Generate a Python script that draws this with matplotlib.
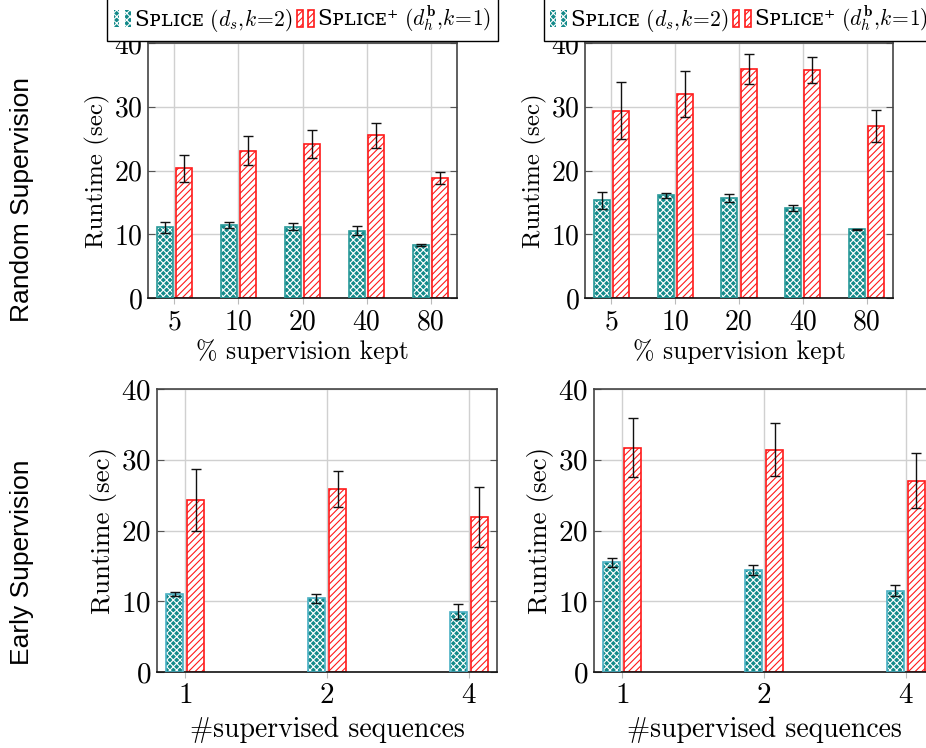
import numpy as np
import matplotlib
matplotlib.use('Agg')
import matplotlib.pyplot as plt
from matplotlib.legend_handler import HandlerTuple

# ---- data ----
pct_labels = ['5', '10', '20', '40', '80']
seq_labels = ['1', '2', '4']

# random supervision (top row)
rand_l_splice = [11.1, 11.45, 11.2, 10.55, 8.3]
rand_l_splice_err = [0.85, 0.5, 0.6, 0.7, 0.2]
rand_l_plus = [20.35, 23.1, 24.2, 25.5, 18.8]
rand_l_plus_err = [2.1, 2.3, 2.2, 1.9, 0.9]

rand_r_splice = [15.3, 16.1, 15.65, 14.1, 10.75]
rand_r_splice_err = [1.35, 0.35, 0.6, 0.45, 0.15]
rand_r_plus = [29.4, 32.0, 35.9, 35.8, 26.95]
rand_r_plus_err = [4.5, 3.6, 2.35, 2.05, 2.5]

# early supervision (bottom row)
early_l_splice = [11.05, 10.4, 8.55]
early_l_splice_err = [0.3, 0.6, 1.0]
early_l_plus = [24.3, 25.9, 21.85]
early_l_plus_err = [4.35, 2.55, 4.25]

early_r_splice = [15.5, 14.4, 11.5]
early_r_splice_err = [0.6, 0.7, 0.8]
early_r_plus = [31.7, 31.4, 27.05]
early_r_plus_err = [4.2, 3.75, 3.85]

TEAL = '#138a8a'
RED = '#ff1a1a'

plt.rcParams['font.family'] = ['cmr10']
plt.rcParams['mathtext.fontset'] = 'cm'
plt.rcParams['axes.formatter.use_mathtext'] = True
plt.rcParams['hatch.linewidth'] = 0.8

fig = plt.figure(figsize=(9.26, 7.48), dpi=100)


def panel(rect, labels, s_vals, s_err, p_vals, p_err, width, shift,
          xlim, xlabel, fs, tfs, edge, xpad):
  ax = fig.add_axes(rect)
  x = np.arange(len(labels))
  ax.set_axisbelow(True)
  ax.grid(True, color='#d0d0d0', linewidth=1.0)
  b1 = ax.bar(x - shift, s_vals, width, color=TEAL, edgecolor='white',
              hatch='xxxxx', linewidth=0, zorder=2)
  ax.bar(x - shift, s_vals, width, fill=False, edgecolor=edge,
         linewidth=1.2, zorder=3)
  b2 = ax.bar(x + shift, p_vals, width, color='white', edgecolor=RED,
              hatch='/////', linewidth=1.2, zorder=2)
  ax.errorbar(x - shift, s_vals, yerr=s_err, fmt='none', ecolor='#111111',
              elinewidth=1.0, capsize=3.5, capthick=1.0, zorder=4)
  ax.errorbar(x + shift, p_vals, yerr=p_err, fmt='none', ecolor='#111111',
              elinewidth=1.0, capsize=3.5, capthick=1.0, zorder=4)
  ax.set_xlim(*xlim)
  ax.set_ylim(0, 40)
  ax.set_yticks([0, 10, 20, 30, 40])
  ax.set_xticks(x)
  ax.set_xticklabels(labels)
  ax.tick_params(axis='y', direction='in', left=True, right=True,
                 length=5, color='#555555', labelsize=tfs, pad=4)
  ax.tick_params(axis='x', direction='out', length=4, color='#bbbbbb',
                 labelsize=tfs, pad=4)
  ax.set_ylabel('Runtime (sec)', fontsize=fs, labelpad=3)
  ax.set_xlabel(xlabel, fontsize=fs + 0.5, labelpad=xpad)
  for s in ax.spines.values():
    s.set_color('#444444')
    s.set_linewidth(1.2)
  ax.spines['bottom'].set_color('#111111')
  return ax, b1, b2


top_h = (298 - 43) / 748
top_b = (748 - 298) / 748
bot_h = (672 - 389) / 748
bot_b = (748 - 672) / 748

ax1, h1, h2 = panel([148 / 926, top_b, 309 / 926, top_h], pct_labels,
                    rand_l_splice, rand_l_splice_err, rand_l_plus, rand_l_plus_err,
                    0.25, 0.15, (-0.41, 4.41), '% supervision kept', 18, 20,
                    '#2a9a9a', 3)
ax2, _, _ = panel([585 / 926, top_b, 308 / 926, top_h], pct_labels,
                  rand_r_splice, rand_r_splice_err, rand_r_plus, rand_r_plus_err,
                  0.25, 0.15, (-0.41, 4.41), '% supervision kept', 18, 20,
                  '#2a9a9a', 3)
ax3, _, _ = panel([157 / 926, bot_b, 340 / 926, bot_h], seq_labels,
                  early_l_splice, early_l_splice_err, early_l_plus, early_l_plus_err,
                  0.12, 0.075, (-0.2, 2.2), '#supervised sequences', 19.5, 21,
                  '#4ab0c4', 5)
ax4, _, _ = panel([594 / 926, bot_b, 340 / 926, bot_h], seq_labels,
                  early_r_splice, early_r_splice_err, early_r_plus, early_r_plus_err,
                  0.12, 0.075, (-0.2, 2.2), '#supervised sequences', 19.5, 21,
                  '#4ab0c4', 5)

lab1 = 'S\u1d18\u029f\u026a\u1d04\u1d07 $(d_s,\\!k\\!=\\!2)$'
lab2 = 'S\u1d18\u029f\u026a\u1d04\u1d07\u207a $(d_h^{\\mathbf{b}},\\!k\\!=\\!1)$'
for ax in (ax1, ax2):
  ax.legend([(h1[0], h1[0]), (h2[0], h2[0])], [lab1, lab2],
            handler_map={tuple: HandlerTuple(ndivide=None, pad=0.25)},
            loc='lower center', bbox_to_anchor=(0.5, 1.0), ncol=2,
            prop={'family': ['DejaVu Serif', 'DejaVu Sans'], 'size': 15.5},
            frameon=True, fancybox=False, framealpha=1,
            edgecolor='black', borderaxespad=0.1, handlelength=0.8,
            handleheight=0.9, handletextpad=0.15, columnspacing=0.2,
            borderpad=0.3)

fig.text(22 / 926, 1 - 200 / 748, 'Random Supervision', rotation=90,
         family='Liberation Sans', fontsize=19, ha='center', va='center')
fig.text(22 / 926, 1 - 562 / 748, 'Early Supervision', rotation=90,
         family='Liberation Sans', fontsize=19, ha='center', va='center')

fig.savefig('out.png', dpi=100)
